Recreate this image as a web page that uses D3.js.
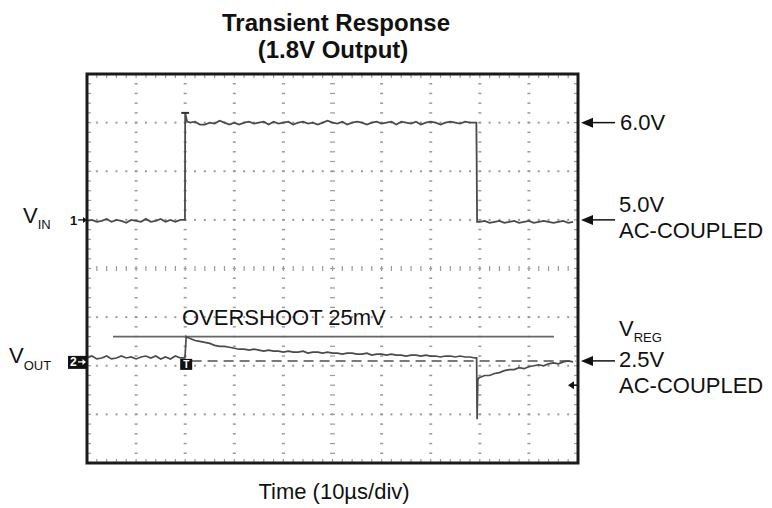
<!DOCTYPE html>
<html lang="en">
<head>
<meta charset="utf-8">
<title>Transient Response (1.8V Output)</title>
<script src="https://d3js.org/d3.v7.min.js"></script>
<style>
  body { margin: 0; background: #fff; }
  svg text { font-family: "Liberation Sans", Arial, sans-serif; fill: #111; }
  .title { font-size: 24px; font-weight: bold; }
  .lbl { font-size: 22px; }
  .sub { font-size: 13px; }
</style>
</head>
<body>
<svg width="772" height="508"></svg>
<script>
// scope settings: 10us/div across 10 divs, CH1 0.5V/div, CH2 50mV/div (AC coupled)
var vinLowBefore = [4.99,5.00,4.98,4.99,5.01,4.98,5.00,4.99,4.97,5.00,4.99,4.98,5.01,4.98,4.99,5.01,4.98,5.00,4.98,5.00]; // t = 0..19us
var vinEdgeUp = [[19.95,5.00],[20.0,6.10],[20.4,6.01]];
var vinHigh = [6.00,6.01,5.98,5.98,6.00,5.99,6.02,6.00,5.98,6.00,
               5.98,6.00,6.01,5.99,6.00,6.01,5.98,6.01,5.99,6.00,
               6.01,5.98,6.00,6.01,5.99,6.00,5.98,6.00,6.02,6.00,
               5.99,6.01,5.98,6.00,6.01,6.00,5.98,6.00,6.01,5.99,
               6.00,6.01,5.98,6.01,6.00,5.99,6.01,5.98,6.00,6.01,
               6.00,5.98,6.00,6.01,6.00,5.99,6.01,6.00,6.00]; // t = 21..79us
var vinEdgeDown = [[79.3,6.00],[79.35,5.70],[79.45,4.98]];
var vinLowAfter = [4.98,4.99,4.97,4.98,4.99,4.97,4.98,4.99,4.97,4.98,4.99,4.97,4.98,4.99,4.98,4.97,4.98,4.99,4.97,4.98]; // t = 80..99us
var vinCap = [19.2, 20.8]; // the little "T" at the top of the rising edge, 6.10V

var voutBefore = [3,5,2,3,5,2,3,5,3,4,2,4,5,3,5,2,4,2,5,3]; // mV, t = 0..19us
var voutEdgeUp = [[19.95,3],[20.2,25],[20.5,24]];
var voutDecay = [23,21,20,19,18,16,15,15,14,13,
                 12,12,11,12,11,10,11,10,10,9,
                 10,9,9,10,8,9,9,8,9,8,
                 8,7,8,8,7,7,8,6,7,7,
                 6,7,6,6,5,6,6,5,6,5,
                 5,4,5,5,4,5,4,4,3]; // t = 21..79us
var voutEdgeDown = [[79.35,3],[79.45,-60],[79.6,-19],[79.9,-17]];
var voutRecover = [-17,-15,-15,-13,-12,-10,-9,-9,-7,-8,-6,-5,-4,-5,-3,-2,-3,-1,0,-1]; // t = 80..99us

var overshootMv = 25;
var overshootSpan = [5.3, 95.1];
var trigLevelMv = -25;
var vinLevels = [6.0, 5.0];
var voutRef = 0;

var frame = {left: 87, top: 74, right: 578, bottom: 463};

var x = d3.scaleLinear().domain([0, 100]).range([frame.left, frame.right]);
var yIn = d3.scaleLinear().domain([2.5, 6.5]).range([frame.bottom, frame.top]);
var yOut = d3.scaleLinear().domain([-105, 295]).range([frame.bottom, frame.top]);
var xDiv = d3.scaleLinear().domain([0, 10]).range([frame.left, frame.right]);
var yDiv = d3.scaleLinear().domain([0, 8]).range([frame.top, frame.bottom]);

function series(startT, vals) { return vals.map(function(v, i) { return [startT + i, v]; }); }

var vinData = [].concat(series(0, vinLowBefore), vinEdgeUp, series(21, vinHigh), vinEdgeDown, series(80, vinLowAfter));
var voutData = [].concat(series(0, voutBefore), voutEdgeUp, series(21, voutDecay), voutEdgeDown, series(80, voutRecover));

var svg = d3.select('svg');

// ---- graticule ----
var grid = svg.append('g').attr('fill', '#9a9a9a');
var minorY = d3.range(0.2, 8, 0.2);
var minorX = d3.range(0.2, 10, 0.2);
[1,2,3,4,6,7,8,9].forEach(function(i) {
  grid.selectAll(null).data(minorY).enter().append('rect')
    .attr('x', xDiv(i) - 1.5).attr('y', function(d) { return yDiv(d) - 0.75; })
    .attr('width', 3).attr('height', 1.5);
});
[1,2,3,5,6,7].forEach(function(j) {
  grid.selectAll(null).data(minorX).enter().append('rect')
    .attr('x', function(d) { return xDiv(d) - 1; }).attr('y', yDiv(j) - 1)
    .attr('width', 2).attr('height', 2);
});
// centre cross with ticks
var ticks = svg.append('g').attr('stroke', '#9a9a9a').attr('stroke-width', 1.2);
ticks.selectAll(null).data(minorX).enter().append('line')
  .attr('x1', function(d) { return xDiv(d); }).attr('x2', function(d) { return xDiv(d); })
  .attr('y1', yDiv(4) - 2.5).attr('y2', yDiv(4) + 2.5);
ticks.selectAll(null).data(minorY).enter().append('line')
  .attr('y1', function(d) { return yDiv(d); }).attr('y2', function(d) { return yDiv(d); })
  .attr('x1', xDiv(5) - 2.5).attr('x2', xDiv(5) + 2.5);
// ticks on the inside of the border
ticks.selectAll(null).data(minorX).enter().append('line')
  .attr('x1', function(d) { return xDiv(d); }).attr('x2', function(d) { return xDiv(d); })
  .attr('y1', frame.bottom - 4).attr('y2', frame.bottom);
ticks.selectAll(null).data(minorX).enter().append('line')
  .attr('x1', function(d) { return xDiv(d); }).attr('x2', function(d) { return xDiv(d); })
  .attr('y1', frame.top).attr('y2', frame.top + 4);
ticks.selectAll(null).data(minorY).enter().append('line')
  .attr('y1', function(d) { return yDiv(d); }).attr('y2', function(d) { return yDiv(d); })
  .attr('x1', frame.left).attr('x2', frame.left + 4);
ticks.selectAll(null).data(minorY).enter().append('line')
  .attr('y1', function(d) { return yDiv(d); }).attr('y2', function(d) { return yDiv(d); })
  .attr('x1', frame.right - 4).attr('x2', frame.right);

// ---- overshoot marker line + reference dash ----
svg.append('line')
  .attr('x1', x(overshootSpan[0])).attr('x2', x(overshootSpan[1]))
  .attr('y1', yOut(overshootMv)).attr('y2', yOut(overshootMv))
  .attr('stroke', '#666').attr('stroke-width', 1.6);
svg.append('line')
  .attr('x1', x(21.3)).attr('x2', x(99.6))
  .attr('y1', yOut(voutRef)).attr('y2', yOut(voutRef))
  .attr('stroke', '#7a7a7a').attr('stroke-width', 2).attr('stroke-dasharray', '10,6');

// ---- traces ----
var lineIn = d3.line().x(function(d) { return x(d[0]); }).y(function(d) { return yIn(d[1]); });
var lineOut = d3.line().x(function(d) { return x(d[0]); }).y(function(d) { return yOut(d[1]); });
svg.append('path').datum(vinData).attr('d', lineIn)
  .attr('fill', 'none').attr('stroke', '#4a4a4a').attr('stroke-width', 1.8);
svg.append('line')
  .attr('x1', x(vinCap[0])).attr('x2', x(vinCap[1]))
  .attr('y1', yIn(6.1)).attr('y2', yIn(6.1))
  .attr('stroke', '#333').attr('stroke-width', 2);
svg.append('path').datum(voutData).attr('d', lineOut)
  .attr('fill', 'none').attr('stroke', '#4a4a4a').attr('stroke-width', 1.7);

// ---- frame ----
svg.append('rect')
  .attr('x', frame.left).attr('y', frame.top)
  .attr('width', frame.right - frame.left).attr('height', frame.bottom - frame.top)
  .attr('fill', 'none').attr('stroke', '#1a1a1a').attr('stroke-width', 3);

// ---- channel markers ----
svg.append('text').attr('x', 70).attr('y', yIn(5.0) + 5)
  .style('font-size', '13px').style('font-weight', 'bold').text('1');
svg.append('line').attr('x1', 78).attr('x2', 84).attr('y1', yIn(5.0)).attr('y2', yIn(5.0))
  .attr('stroke', '#111').attr('stroke-width', 1.3);
svg.append('path').attr('d', 'M' + 87 + ',' + yIn(5.0) + 'l-4,-3v6z').attr('fill', '#111');

svg.append('rect').attr('x', 68).attr('y', yOut(voutRef) - 5).attr('width', 19).attr('height', 13).attr('fill', '#111');
svg.append('text').attr('x', 70).attr('y', yOut(voutRef) + 5.5)
  .style('font-size', '12px').style('font-weight', 'bold').style('fill', '#fff').text('2');
svg.append('line').attr('x1', 78).attr('x2', 83).attr('y1', yOut(voutRef) + 1).attr('y2', yOut(voutRef) + 1)
  .attr('stroke', '#fff').attr('stroke-width', 1.3);
svg.append('path').attr('d', 'M' + 86 + ',' + (yOut(voutRef) + 1) + 'l-3.5,-3v6z').attr('fill', '#fff');

// trigger position marker
svg.append('rect').attr('x', x(20.2) - 6).attr('y', yOut(voutRef) - 2).attr('width', 12).attr('height', 11).attr('fill', '#111');
svg.append('text').attr('x', x(20.2)).attr('y', yOut(voutRef) + 7.5).attr('text-anchor', 'middle')
  .style('font-size', '10px').style('font-weight', 'bold').style('fill', '#fff').text('T');

// trigger level marker
svg.append('path')
  .attr('d', 'M' + (frame.right - 10) + ',' + yOut(trigLevelMv) + 'l6,-4v8z')
  .attr('fill', '#111');
svg.append('line').attr('x1', frame.right - 5).attr('x2', frame.right - 1)
  .attr('y1', yOut(trigLevelMv)).attr('y2', yOut(trigLevelMv)).attr('stroke', '#111').attr('stroke-width', 1.5);

// ---- right-side level arrows ----
function levelArrow(y) {
  svg.append('line').attr('x1', 591).attr('x2', 615).attr('y1', y).attr('y2', y)
    .attr('stroke', '#111').attr('stroke-width', 1.5);
  svg.append('path').attr('d', 'M' + 581 + ',' + y + 'l12,-5v10z').attr('fill', '#111');
}
vinLevels.forEach(function(v) { levelArrow(yIn(v)); });
levelArrow(yOut(voutRef));

svg.append('text').attr('class', 'lbl').attr('x', 620).attr('y', yIn(6.0) + 7).text('6.0V');
svg.append('text').attr('class', 'lbl').attr('x', 619).attr('y', 212).text('5.0V');
svg.append('text').attr('class', 'lbl').attr('x', 619).attr('y', 238).text('AC-COUPLED');

var vreg = svg.append('text').attr('class', 'lbl').attr('x', 619).attr('y', 336);
vreg.append('tspan').text('V');
vreg.append('tspan').attr('class', 'sub').attr('dy', 6).text('REG');
svg.append('text').attr('class', 'lbl').attr('x', 619).attr('y', 367).text('2.5V');
svg.append('text').attr('class', 'lbl').attr('x', 619).attr('y', 393).text('AC-COUPLED');

// ---- left labels ----
var vin = svg.append('text').attr('class', 'lbl').attr('x', 23).attr('y', 223);
vin.append('tspan').text('V');
vin.append('tspan').attr('class', 'sub').attr('dy', 6).text('IN');
var vout = svg.append('text').attr('class', 'lbl').attr('x', 9).attr('y', 363);
vout.append('tspan').text('V');
vout.append('tspan').attr('class', 'sub').attr('dy', 7).text('OUT');

svg.append('text').attr('class', 'lbl').attr('x', 182).attr('y', 325).text('OVERSHOOT 25mV');

// ---- titles ----
svg.append('text').attr('class', 'title').attr('x', 336).attr('y', 31).attr('text-anchor', 'middle').text('Transient Response');
svg.append('text').attr('class', 'title').attr('x', 333).attr('y', 58).attr('text-anchor', 'middle').text('(1.8V Output)');
svg.append('text').attr('class', 'lbl').attr('x', 334).attr('y', 499).attr('text-anchor', 'middle').text('Time (10µs/div)');
</script>
</body>
</html>
